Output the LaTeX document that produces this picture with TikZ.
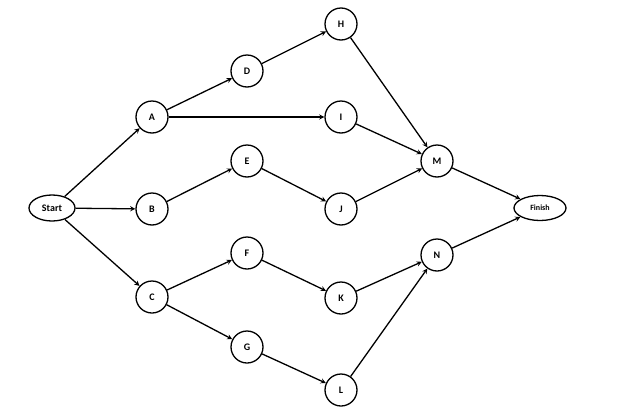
\documentclass[tikz,border=0pt]{standalone}
\usepackage{fontspec}
\setmainfont{Carlito}
\usetikzlibrary{shapes.geometric}
\begin{document}
\begin{tikzpicture}[x=1pt,y=-1pt,
  cnode/.style={circle,draw,line width=1.3pt,minimum size=32pt,inner sep=0pt,font=\bfseries\fontsize{10}{12}\selectfont},
  enode/.style={ellipse,draw,line width=1.3pt,minimum width=46pt,minimum height=26pt,inner sep=0pt,font=\bfseries\fontsize{10}{12}\selectfont},
  arr/.style={->,line width=1.3pt,>=stealth}]
\useasboundingbox (0,0) rectangle (638,418);
\node[enode] (S) at (52,208) {Start};
\node[enode,minimum width=52pt,minimum height=25pt,font=\bfseries\fontsize{8}{10}\selectfont] (Fi) at (540,208) {Finish};
\foreach \n/\x/\y in {A/152/117,B/152/209,C/152/297,D/247/71,E/247/161,F/247/253,G/247/347,H/341/24,I/341/117,J/341/209,K/341/298,L/341/390,M/437/161,N/437/255}
  \node[cnode] (\n) at (\x,\y) {\n};
\foreach \a/\b in {S/A,S/B,S/C,A/D,A/I,B/E,C/F,C/G,D/H,E/J,F/K,G/L,H/M,I/M,J/M,K/N,L/N,M/Fi,N/Fi}
  \draw[arr] (\a) -- (\b);
\end{tikzpicture}
\end{document}
